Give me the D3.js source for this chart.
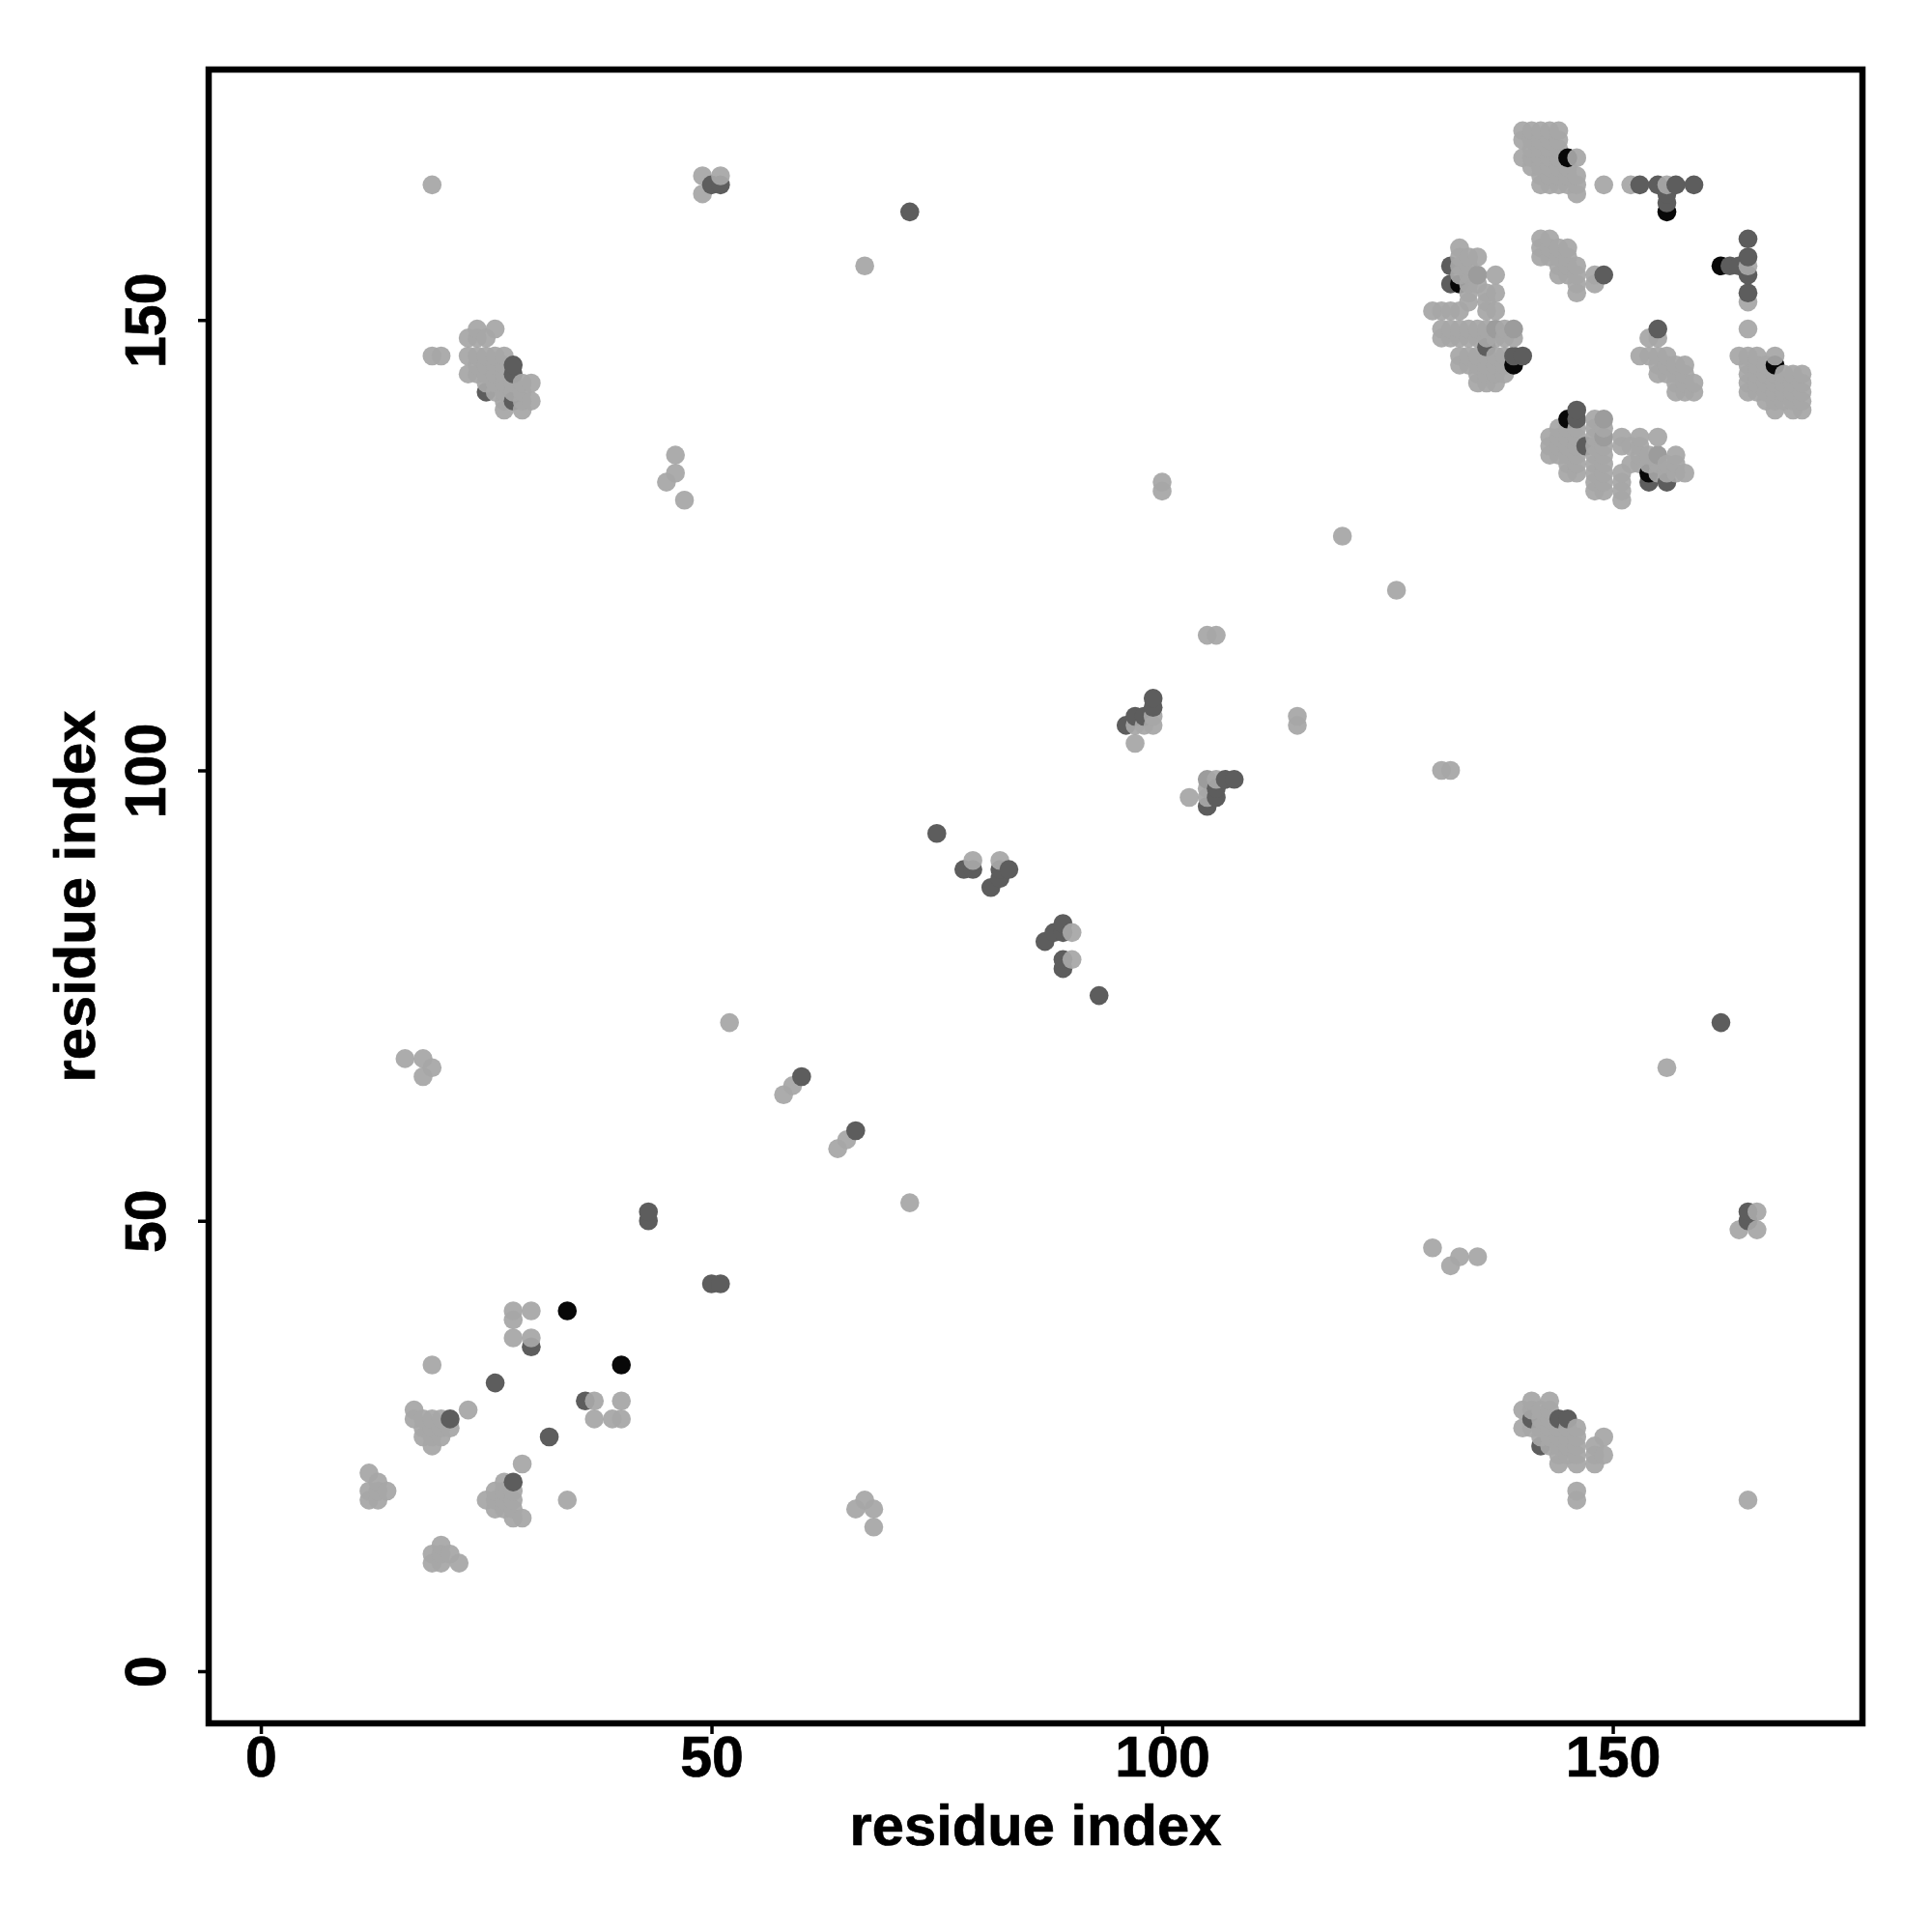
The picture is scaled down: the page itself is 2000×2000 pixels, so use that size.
<!DOCTYPE html>
<html><head><meta charset="utf-8">
<script src="https://cdn.jsdelivr.net/npm/d3@7"></script>
<style>html,body{margin:0;background:#fff}svg{display:block}text{font-family:"Liberation Sans",Arial,sans-serif;font-weight:bold;fill:#000;stroke:#000;stroke-width:0.7px}</style>
</head><body><svg id="c" width="2000" height="2000"></svg>
<script>
const xTickValues=[0,50,100,150];
const yTickValues=[0,50,100,150];
const xTitle="residue index", yTitle="residue index";
// contacts, each column: [residue x, [residue y ...]]
const lightColumns=[
[12,[22,20,19]],[13,[21,20,19]],[14,[20]],[16,[68]],[17,[29,28]],[18,[68,66,28,27,26]],
[19,[165,146,67,34,28,27,26,25,13,12]],[20,[146,28,27,26,14,13,12]],[21,[27,13]],[22,[12]],
[23,[148,146,144,29]],[24,[149,148,146,145,144]],[25,[148,146,145,144,143,19]],
[26,[149,146,145,144,143,142,20,19,18]],[27,[146,145,144,143,142,141,140,21,20,19,18]],
[28,[143,142,40,39,37,20,19,18,17]],[29,[143,142,141,140,23,17]],[30,[143,141,40,37]],
[34,[19]],[37,[30,28]],[39,[28]],[40,[30,28]],
[45,[132]],[46,[135,133]],[47,[130]],[49,[166,164]],[51,[166]],[52,[72]],
[58,[64]],[59,[65]],[64,[58]],[65,[59]],[66,[18]],[67,[156,19]],[68,[18,16]],[72,[52]],
[79,[90]],[82,[90]],[90,[82,79]],[97,[105,103]],[98,[105]],[99,[106,105]],
[100,[132,131]],[103,[97]],[105,[115,98,97]],[106,[115,99]],[115,[106,105]],[120,[126]],[126,[120]],
[130,[151,47]],[131,[151,149,148,100]],[132,[151,149,148,100,45]],
[133,[158,157,156,155,151,149,148,146,145,46]],[134,[157,156,155,154,153,152,149,148,146,145]],
[135,[157,154,149,148,146,145,144,143,46]],[136,[153,152,151,149,148,146,145,144,143]],
[137,[155,153,151,148,146,145,144,143]],[138,[149,148,146,145,144]],[139,[148]],
[140,[171,170,168,29,27]],[141,[171,170,169,168,167,30,29,27]],
[142,[171,170,169,168,167,166,165,159,158,157,29,28,27,26]],
[143,[171,170,169,168,167,166,165,159,158,157,137,136,135,30,29,28,27,26,25]],
[144,[171,170,169,168,167,166,165,158,157,156,155,138,137,136,135,27,26,25,24,23]],
[145,[167,166,165,158,157,156,155,138,137,136,135,134,133,27,26,25,24]],
[146,[168,166,165,164,156,155,154,153,138,137,136,135,134,133,27,26,25,24,23,20,19]],
[148,[155,154,139,138,137,136,135,134,133,132,131,25,24,23]],
[149,[165,138,136,135,134,133,132,131,26,24]],
[151,[137,136,133,132,131,130]],[152,[165,136,134]],[153,[146,137,136,135,134]],
[154,[148,146,135,134]],[155,[148,146,145,144,137,134,133]],[156,[165,146,145,144,134,133,67]],
[157,[145,144,143,142,135,134,133]],[158,[145,144,143,142,133]],[159,[143,142]],
[164,[146,49]],[165,[156,152,149,146,145,144,143,142,19]],[166,[146,145,144,143,142,51,49]],
[167,[145,144,143,142,141]],[168,[146,144,143,142,141,140]],[169,[144,143,142,141]],
[170,[144,143,142,141,140]],[171,[144,143,142,141,140]]
];
const midPoints=[[135,155],[155,135],[137,149],[149,137],[139,149],[149,139],[105,99]];
const darkPoints=[[21,28],[25,142],[26,32],[28,21],[28,141],[28,144],[28,145],[30,36],[32,26],[36,30],
[43,50],[43,51],[50,43],[50,165],[51,43],[51,165],[60,66],[66,60],[72,162],[75,93],[78,89],[79,89],[81,87],
[82,88],[82,89],[83,89],[87,81],[88,82],[89,78],[89,79],[89,82],[89,83],[93,75],[96,105],[97,106],[98,106],
[99,107],[99,108],[105,96],[106,97],[106,98],[107,99],[108,99],[132,154],[132,156],[136,147],[139,146],[140,146],
[141,28],[142,25],[144,28],[145,28],[146,139],[146,140],[147,136],[149,155],[153,165],[154,132],[155,149],
[155,165],[156,132],[156,163],[156,164],[157,165],[159,165],[162,72],[163,156],[164,156],
[165,50],[165,51],[165,153],[165,155],[165,157],[165,159]];
const blackPoints=[[34,40],[40,34],[133,154],[139,145],[145,139],[145,168],[154,133],[156,162],[162,156],[168,145]];
const toneLight="#a7a7a7",toneMid="#9c9c9c",toneDark="#5d5d5d",toneBlack="#080808";

const boxLeft=216,boxRight=1928,boxTop=72,boxBottom=1784,pointRadius=9.8;
const x=d3.scaleLinear().domain([-5.79,177.7]).range([boxLeft,boxRight]);
const y=d3.scaleLinear().domain([-5.79,177.8]).range([boxBottom,boxTop]);
const svg=d3.select("#c");

const pts=[];
lightColumns.forEach(([cx,ys])=>ys.forEach(v=>pts.push({x:cx,y:v,c:toneLight})));
midPoints.forEach(([a,b])=>pts.push({x:a,y:b,c:toneMid}));
darkPoints.forEach(([a,b])=>pts.push({x:a,y:b,c:toneDark}));
blackPoints.forEach(([a,b])=>pts.push({x:a,y:b,c:toneBlack}));
pts.sort((a,b)=>a.x-b.x||a.y-b.y);
svg.append("g").selectAll("circle").data(pts).join("circle")
  .attr("cx",d=>x(d.x)).attr("cy",d=>y(d.y)).attr("r",pointRadius)
  .attr("fill",d=>d.c).attr("fill-opacity",d=>d.c===toneLight?0.94:1);

const ax=svg.append("g").attr("transform",`translate(0,${boxBottom})`)
  .call(d3.axisBottom(x).tickValues(xTickValues).tickSize(11).tickFormat(d3.format("d")));
const ay=svg.append("g").attr("transform",`translate(${boxLeft},0)`)
  .call(d3.axisLeft(y).tickValues(yTickValues).tickSize(11).tickFormat(d3.format("d")));
[ax,ay].forEach(a=>{a.select(".domain").remove();a.attr("font-size",null).attr("font-family",null);a.selectAll("line").attr("stroke","#000").attr("stroke-width",3.5);});
ax.selectAll("text").attr("y",0).attr("dy",0).attr("transform","translate(0,55)")
  .attr("text-anchor","middle").style("font-size","59px");
ay.selectAll("text").attr("x",0).attr("dy",0).attr("y",0)
  .attr("transform","translate(-45,0) rotate(-90)")
  .attr("text-anchor","middle").style("font-size","59px");
svg.append("rect").attr("x",boxLeft).attr("y",boxTop).attr("width",boxRight-boxLeft).attr("height",boxBottom-boxTop)
  .attr("fill","none").attr("stroke","#000").attr("stroke-width",6.5);
svg.append("text").attr("x",(boxLeft+boxRight)/2).attr("y",1910).attr("text-anchor","middle")
  .style("font-size","59.7px").text(xTitle);
svg.append("text").attr("transform",`translate(98,${(boxTop+boxBottom)/2}) rotate(-90)`).attr("text-anchor","middle")
  .style("font-size","59.7px").text(yTitle);
</script></body></html>
